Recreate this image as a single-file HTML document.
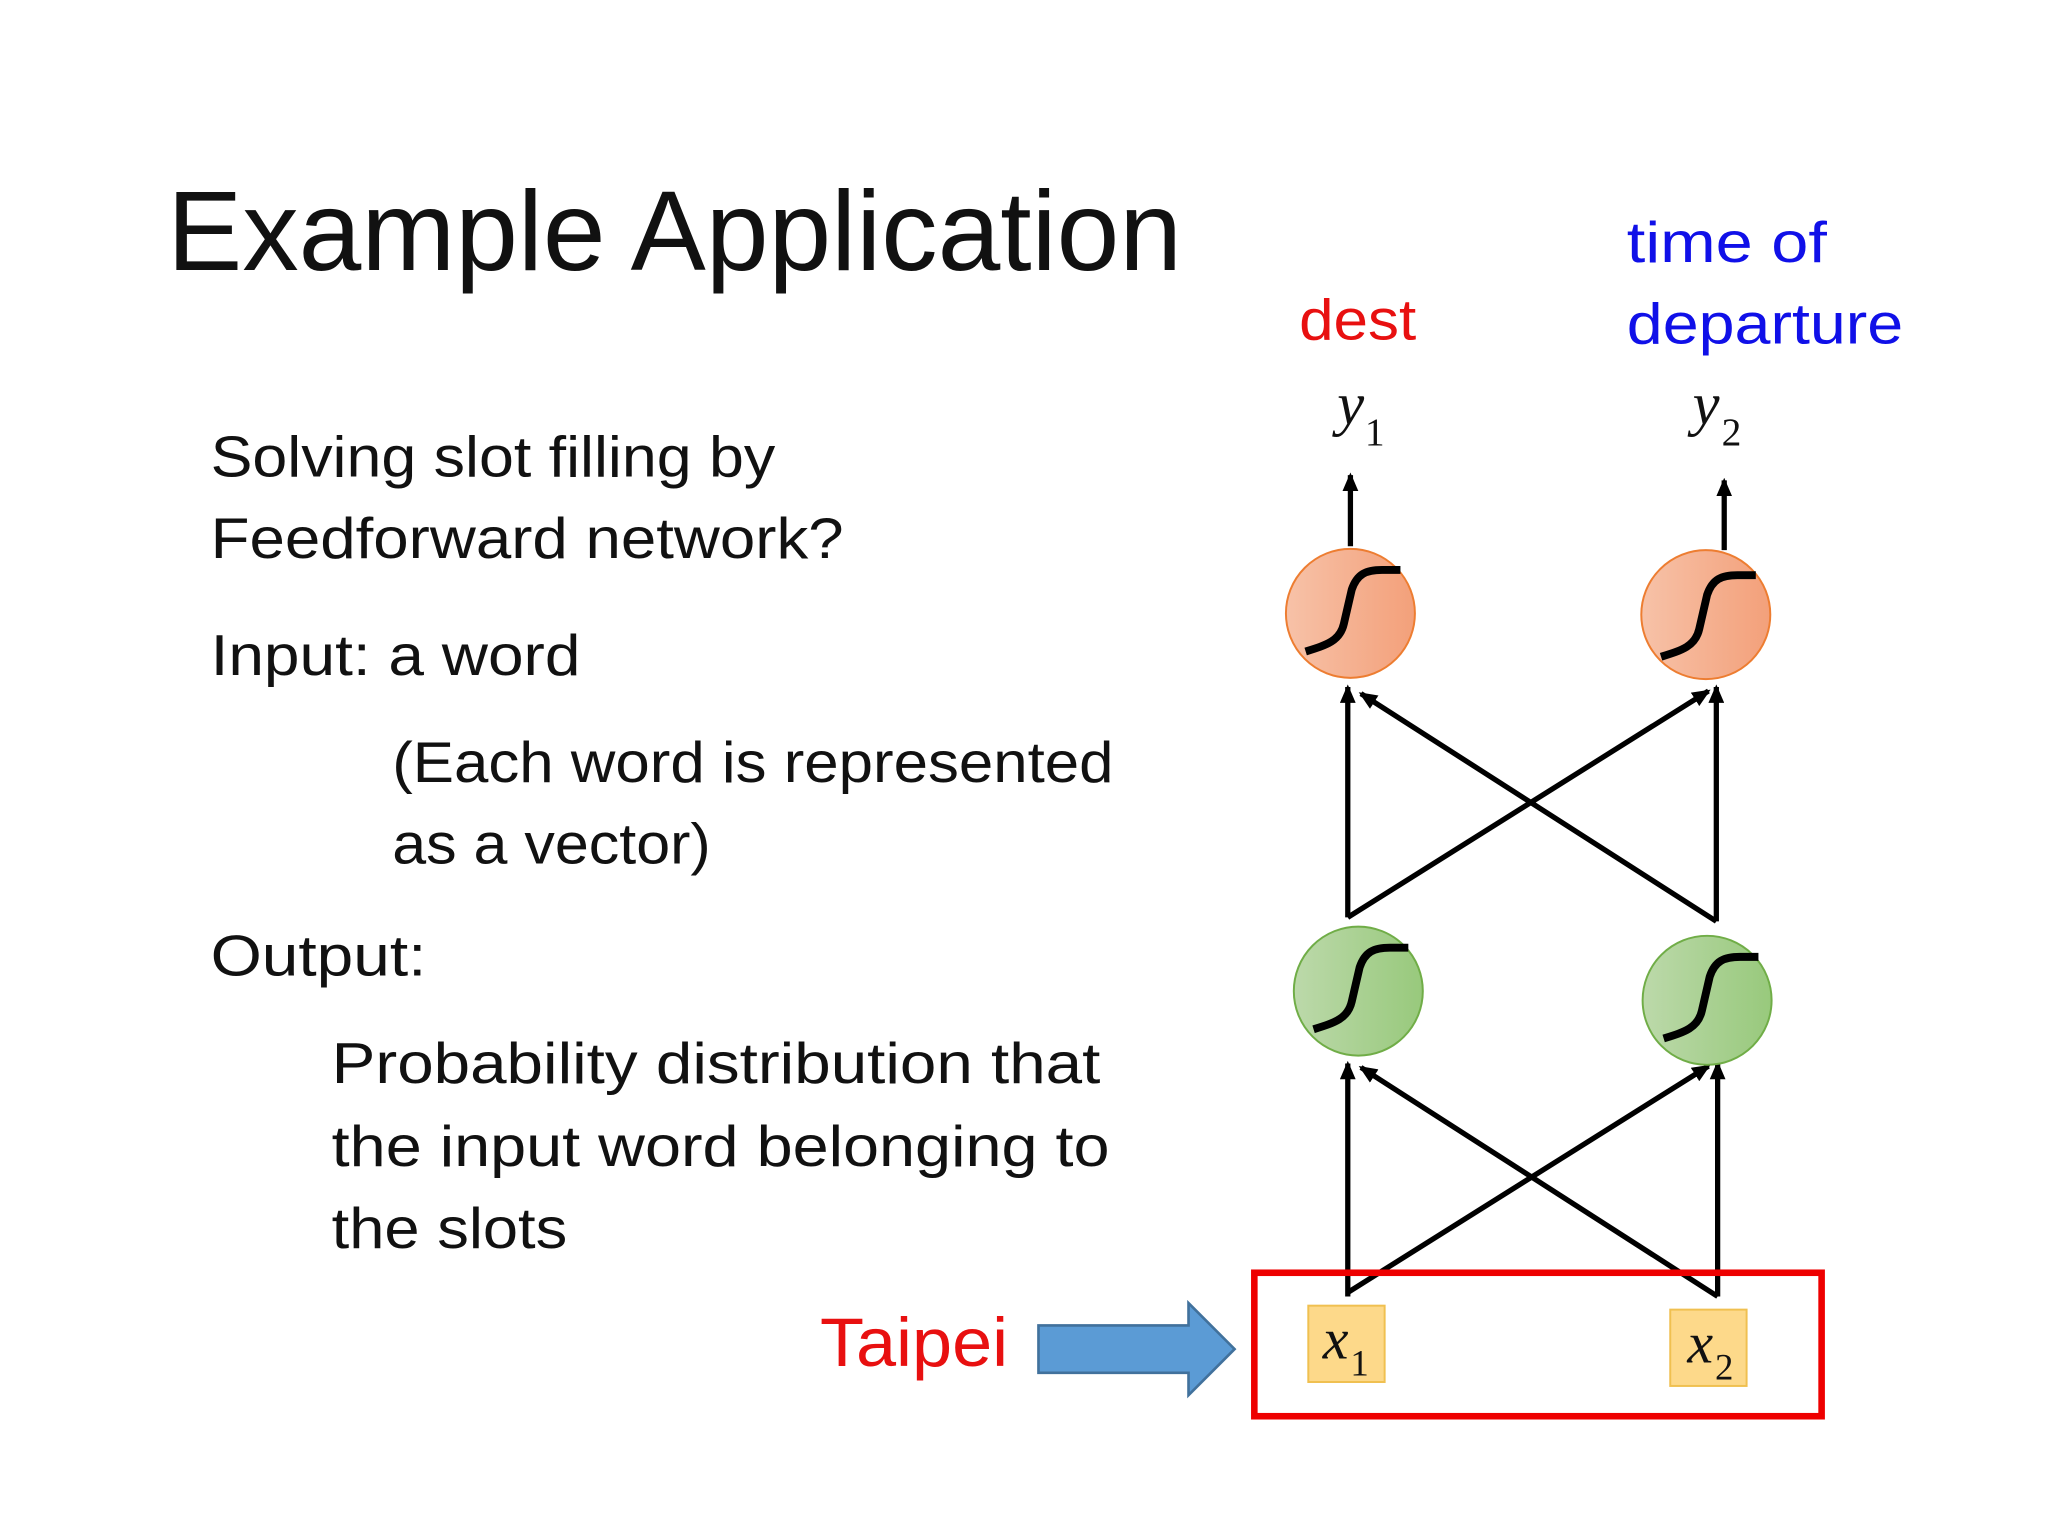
<!DOCTYPE html>
<html><head><meta charset="utf-8"><style>
html,body{margin:0;padding:0;background:#fff;}
svg{display:block;}
text{font-family:"Liberation Sans",sans-serif;}
</style></head><body>
<svg width="2048" height="1536" viewBox="0 0 1556 1167" xmlns="http://www.w3.org/2000/svg">
<defs>
<linearGradient id="og" x1="0" x2="1"><stop offset="0" stop-color="#f7c2a8"/><stop offset="1" stop-color="#f3a07a"/></linearGradient>
<linearGradient id="gg" x1="0" x2="1"><stop offset="0" stop-color="#bcd9aa"/><stop offset="1" stop-color="#98c97c"/></linearGradient>
<marker id="ah" markerWidth="14" markerHeight="12" refX="12" refY="6" orient="auto" markerUnits="userSpaceOnUse"><path d="M0,0 L14,6 L0,12 z" fill="#000"/></marker>
<g id="sig"><path d="M-36,29 C-20,24 -10,21 -7,8 L-1,-18 C3,-30 10,-33 22,-33 L36,-33" fill="none" stroke="#000" stroke-width="6"/></g>
</defs>
<text x="127" y="205" font-size="86" textLength="771" lengthAdjust="spacingAndGlyphs" fill="#111">Example Application</text>
<g font-size="44" fill="#111">
<text x="160" y="362" textLength="429" lengthAdjust="spacingAndGlyphs">Solving slot filling by</text>
<text x="160" y="424" textLength="481" lengthAdjust="spacingAndGlyphs">Feedforward network?</text>
<text x="160" y="513" textLength="281" lengthAdjust="spacingAndGlyphs">Input: a word</text>
<text x="298" y="594" textLength="548" lengthAdjust="spacingAndGlyphs">(Each word is represented</text>
<text x="298" y="656" textLength="242" lengthAdjust="spacingAndGlyphs">as a vector)</text>
<text x="160" y="741" textLength="164" lengthAdjust="spacingAndGlyphs">Output:</text>
<text x="252" y="823" textLength="584" lengthAdjust="spacingAndGlyphs">Probability distribution that</text>
<text x="252" y="886" textLength="591" lengthAdjust="spacingAndGlyphs">the input word belonging to</text>
<text x="252" y="948" textLength="179" lengthAdjust="spacingAndGlyphs">the slots</text>
</g>
<text x="623" y="1038" font-size="52" fill="#e81010" textLength="143" lengthAdjust="spacingAndGlyphs">Taipei</text>
<path d="M789,1007 L903,1007 L903,990 L938,1025 L903,1060 L903,1043 L789,1043 z" fill="#5b9bd5" stroke="#41719c" stroke-width="2"/>
<text x="987" y="258" font-size="44" fill="#e81010" textLength="89" lengthAdjust="spacingAndGlyphs">dest</text>
<text x="1236" y="199" font-size="44" fill="#1010e8" textLength="152" lengthAdjust="spacingAndGlyphs">time of</text>
<text x="1236" y="261" font-size="44" fill="#1010e8" textLength="210" lengthAdjust="spacingAndGlyphs">departure</text>
<g fill="#111">
<text x="1016" y="322" font-size="46" font-style="italic" style="font-family:'Liberation Serif',serif">y</text><text x="1037" y="338" font-size="30" style="font-family:'Liberation Serif',serif">1</text>
<text x="1286" y="322" font-size="46" font-style="italic" style="font-family:'Liberation Serif',serif">y</text><text x="1308" y="338" font-size="30" style="font-family:'Liberation Serif',serif">2</text>
</g>
<g stroke="#000" stroke-width="4" fill="none" marker-end="url(#ah)">
<line x1="1026" y1="415" x2="1026" y2="361"/>
<line x1="1310" y1="418" x2="1310" y2="365"/>
<line x1="1024" y1="697" x2="1024" y2="522"/>
<line x1="1024" y1="697" x2="1298" y2="525"/>
<line x1="1304" y1="700" x2="1304" y2="522"/>
<line x1="1304" y1="700" x2="1034" y2="527"/>
<line x1="1024" y1="985" x2="1024" y2="808"/>
<line x1="1024" y1="982" x2="1298" y2="810"/>
<line x1="1305" y1="985" x2="1305" y2="808"/>
<line x1="1305" y1="985" x2="1034" y2="811"/>
</g>
<circle cx="1026" cy="466" r="49" fill="url(#og)" stroke="#ed7d31" stroke-width="1.5"/>
<circle cx="1296" cy="467" r="49" fill="url(#og)" stroke="#ed7d31" stroke-width="1.5"/>
<circle cx="1032" cy="753" r="49" fill="url(#gg)" stroke="#70ad47" stroke-width="1.5"/>
<circle cx="1297" cy="760" r="49" fill="url(#gg)" stroke="#70ad47" stroke-width="1.5"/>
<use href="#sig" x="1028" y="466"/>
<use href="#sig" x="1298" y="470"/>
<use href="#sig" x="1034" y="753"/>
<use href="#sig" x="1300" y="760"/>
<rect x="953" y="967" width="431" height="109" fill="none" stroke="#ee0000" stroke-width="5"/>
<rect x="994" y="992" width="58" height="58" fill="#fdd98a" stroke="#f0c050" stroke-width="1.5"/>
<rect x="1269" y="995" width="58" height="58" fill="#fdd98a" stroke="#f0c050" stroke-width="1.5"/>
<text x="1005" y="1032" font-size="44" font-style="italic" fill="#111" style="font-family:'Liberation Serif',serif">x</text><text x="1026" y="1045" font-size="28" fill="#111" style="font-family:'Liberation Serif',serif">1</text>
<text x="1282" y="1035" font-size="44" font-style="italic" fill="#111" style="font-family:'Liberation Serif',serif">x</text><text x="1303" y="1048" font-size="28" fill="#111" style="font-family:'Liberation Serif',serif">2</text>
</svg>
</body></html>
